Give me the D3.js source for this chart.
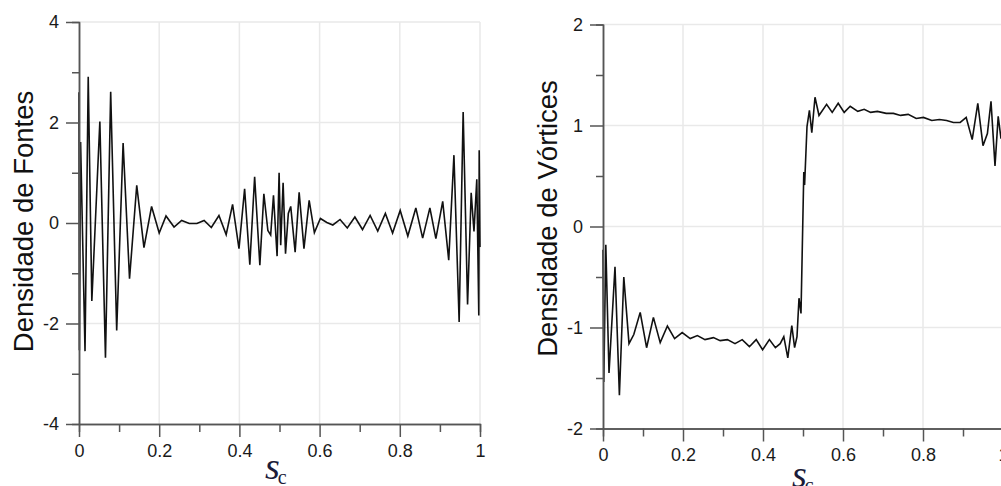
<!DOCTYPE html>
<html>
<head>
<meta charset="utf-8">
<script src="https://cdn.jsdelivr.net/npm/d3@7"></script>
<style>
  html, body { margin: 0; padding: 0; background: #fff; overflow: hidden; }
  svg { display: block; }
</style>
</head>
<body>
<svg id="chart" width="1001" height="486"></svg>
<script>
// Source density along the contour (s_c, value)
const fontesS = [0.000, 0.001, 0.004, 0.015, 0.023, 0.032, 0.052, 0.066, 0.079, 0.094,
  0.110, 0.126, 0.144, 0.162, 0.181, 0.200, 0.217, 0.237, 0.256, 0.275,
  0.294, 0.312, 0.330, 0.349, 0.367, 0.383, 0.399, 0.413, 0.426, 0.438,
  0.451, 0.461, 0.471, 0.478, 0.485, 0.494, 0.499, 0.503, 0.509, 0.515,
  0.522, 0.528, 0.539, 0.549, 0.561, 0.574, 0.587, 0.602, 0.618, 0.633,
  0.651, 0.669, 0.688, 0.707, 0.726, 0.745, 0.764, 0.782, 0.801, 0.820,
  0.840, 0.857, 0.875, 0.890, 0.907, 0.922, 0.935, 0.948, 0.958, 0.969,
  0.978, 0.985, 0.992, 0.997, 0.998, 1.000];
const fontesV = [2.60, -2.53, 1.61, -2.55, 2.91, -1.55, 2.02, -2.68, 2.61, -2.14,
  1.59, -1.11, 0.75, -0.49, 0.33, -0.20, 0.14, -0.08, 0.05, -0.01,
  -0.01, 0.05, -0.09, 0.15, -0.23, 0.37, -0.51, 0.68, -0.83, 0.92,
  -0.84, 0.58, -0.15, -0.24, 0.55, -0.66, 1.00, -0.44, 0.80, -0.61,
  0.19, 0.33, -0.58, 0.61, -0.51, 0.45, -0.19, 0.09, 0.01, -0.04,
  0.07, -0.10, 0.12, -0.13, 0.15, -0.16, 0.19, -0.20, 0.25, -0.26,
  0.30, -0.30, 0.30, -0.31, 0.43, -0.74, 1.35, -1.97, 2.21, -1.62,
  0.60, -0.17, 0.87, -1.84, 1.45, -0.48];

// Vortex density along the contour (s_c, value)
const vorticesS = [0.000, 0.001, 0.002, 0.007, 0.015, 0.030, 0.041, 0.052, 0.065, 0.077,
  0.093, 0.109, 0.126, 0.143, 0.161, 0.179, 0.198, 0.218, 0.236, 0.255,
  0.276, 0.293, 0.311, 0.330, 0.348, 0.366, 0.383, 0.399, 0.416, 0.431,
  0.443, 0.452, 0.462, 0.472, 0.479, 0.485, 0.490, 0.495, 0.502, 0.504,
  0.510, 0.516, 0.522, 0.530, 0.540, 0.559, 0.573, 0.588, 0.603, 0.618,
  0.637, 0.653, 0.669, 0.686, 0.708, 0.726, 0.744, 0.763, 0.783, 0.801,
  0.822, 0.841, 0.859, 0.876, 0.893, 0.908, 0.923, 0.937, 0.950, 0.961,
  0.970, 0.980, 0.988, 0.995];
const vorticesV = [-0.23, -0.94, -1.54, -0.18, -1.45, -0.40, -1.67, -0.50, -1.16, -1.07,
  -0.85, -1.20, -0.90, -1.15, -0.985, -1.11, -1.05, -1.11, -1.08, -1.12,
  -1.10, -1.13, -1.12, -1.16, -1.12, -1.19, -1.12, -1.22, -1.12, -1.20,
  -1.16, -1.09, -1.30, -0.98, -1.20, -1.09, -0.71, -0.86, 0.54, 0.41,
  0.99, 1.15, 0.93, 1.28, 1.10, 1.21, 1.13, 1.22, 1.13, 1.19,
  1.14, 1.16, 1.13, 1.14, 1.12, 1.12, 1.10, 1.11, 1.07, 1.08,
  1.05, 1.06, 1.05, 1.03, 1.03, 1.08, 0.86, 1.22, 0.80, 0.92,
  1.24, 0.60, 1.09, 0.87];

// Tick values
const xMajor = [0, 0.2, 0.4, 0.6, 0.8, 1];
const xMinor = [0.1, 0.3, 0.5, 0.7, 0.9];
const yMajorFontes = [-4, -2, 0, 2, 4];
const yMinorFontes = [-3, -1, 1, 3];
const yMajorVortices = [-2, -1, 0, 1, 2];
const yMinorVortices = [-1.5, -0.5, 0.5, 1.5];

const sansFont = "'Liberation Sans', Arial, sans-serif";
const serifFont = "'Liberation Serif', 'Times New Roman', serif";
const plainNumber = d => String(d);   // hyphen-minus, no unicode minus
const svg = d3.select("#chart");

function panel(opts) {
  const x = d3.scaleLinear().domain([0, 1]).range(opts.xr);
  const y = d3.scaleLinear().domain(opts.yd).range(opts.yr);
  const g = svg.append("g");

  // grid
  g.append("g").selectAll("line").data(xMajor.filter(d => d > 0)).join("line")
    .attr("x1", d => x(d)).attr("x2", d => x(d))
    .attr("y1", y.range()[0]).attr("y2", y.range()[1])
    .attr("stroke", "#e9e9e9").attr("stroke-width", 1.5);
  g.append("g").selectAll("line").data(opts.yMajor.filter(d => d > opts.yd[0])).join("line")
    .attr("x1", x(0)).attr("x2", x(1))
    .attr("y1", d => y(d)).attr("y2", d => y(d))
    .attr("stroke", "#e9e9e9").attr("stroke-width", 1.5);

  // data line
  const pts = opts.s.map((s, i) => [s, opts.v[i]]);
  g.append("path").datum(pts)
    .attr("d", d3.line().x(d => x(d[0])).y(d => y(d[1])))
    .attr("fill", "none").attr("stroke", "#111").attr("stroke-width", 1.6);

  const styleAxis = sel => {
    sel.attr("font-family", sansFont).attr("font-size", 18);
    sel.select(".domain").attr("stroke", "#555").attr("stroke-width", 1.5);
    sel.selectAll(".tick line").attr("stroke", "#555").attr("stroke-width", 1.5);
    sel.selectAll(".tick text").attr("fill", "#1a1a1a");
  };

  // x axis
  const yb = y.range()[0];
  g.append("g").attr("transform", `translate(0,${yb})`)
    .call(d3.axisBottom(x).tickValues(xMinor).tickSize(8).tickFormat(""))
    .call(styleAxis);
  g.append("g").attr("transform", `translate(0,${yb})`)
    .call(d3.axisBottom(x).tickValues(xMajor).tickSize(13).tickSizeOuter(0).tickPadding(7)
      .tickFormat(plainNumber))
    .call(styleAxis);

  // y axis
  const xl = x(0);
  g.append("g").attr("transform", `translate(${xl},0)`)
    .call(d3.axisLeft(y).tickValues(opts.yMinor).tickSize(7).tickFormat(""))
    .call(styleAxis);
  g.append("g").attr("transform", `translate(${xl},0)`)
    .call(d3.axisLeft(y).tickValues(opts.yMajor).tickSize(13).tickSizeOuter(0).tickPadding(7)
      .tickFormat(plainNumber))
    .call(styleAxis);

  // y title
  g.append("text")
    .attr("transform", `translate(${opts.titlePos[0]},${opts.titlePos[1]}) rotate(-90)`)
    .attr("text-anchor", "middle")
    .attr("font-family", sansFont)
    .attr("font-size", 27.5).attr("fill", "#111")
    .text(opts.title);

  // x title: s_c
  const xt = g.append("text")
    .attr("x", opts.xTitlePos[0]).attr("y", opts.xTitlePos[1])
    .attr("font-family", serifFont)
    .attr("fill", "#1c1c3a");
  xt.append("tspan").attr("font-style", "italic").attr("font-size", 38).text("s");
  xt.append("tspan").attr("font-size", 20).attr("dx", -2).attr("dy", 5).text("c");
}

panel({
  xr: [79, 480], yd: [-4, 4], yr: [424, 22],
  yMajor: yMajorFontes, yMinor: yMinorFontes,
  s: fontesS, v: fontesV,
  title: "Densidade de Fontes", titlePos: [33, 221.5],
  xTitlePos: [265, 479]
});

panel({
  xr: [603, 1003], yd: [-2, 2], yr: [428.5, 24.5],
  yMajor: yMajorVortices, yMinor: yMinorVortices,
  s: vorticesS, v: vorticesV,
  title: "Densidade de Vórtices", titlePos: [557, 218.5],
  xTitlePos: [792, 487]
});
</script>
</body>
</html>
